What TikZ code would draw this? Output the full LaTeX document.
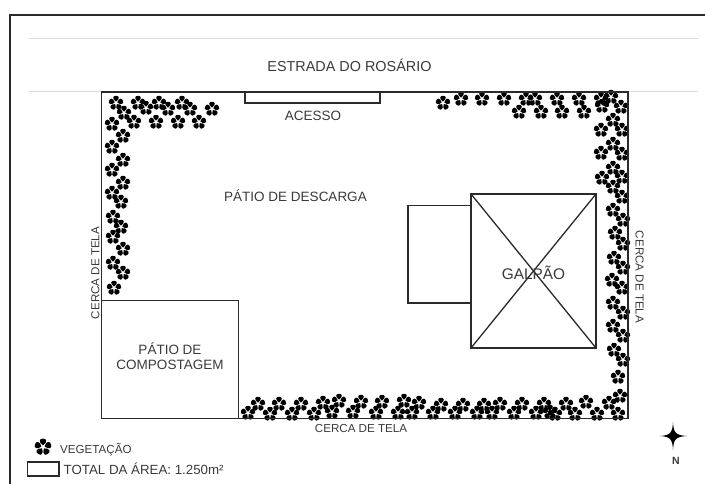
\documentclass[tikz,border=0pt]{standalone}
\usepackage{fontspec}
\setmainfont{Liberation Sans}
\definecolor{ink}{HTML}{2A2A2A}
\definecolor{txt}{HTML}{3A3A3A}
\definecolor{road}{HTML}{DCDCDC}
\tikzset{
  wall/.style={draw=ink,line width=1.8pt,line join=miter},
  thin wall/.style={draw=ink,line width=1.3pt},
  frameline/.style={draw=ink,line width=2pt},
  roadline/.style={draw=road,line width=0.8pt},
  label/.style={text=txt,font=\fontsize{13.5}{15}\selectfont,inner sep=0pt,align=center},
  road label/.style={text=txt,font=\fontsize{14.4}{16}\selectfont,inner sep=0pt},
  shed label/.style={text=txt,font=\fontsize{15.4}{17}\selectfont,inner sep=0pt},
  small label/.style={text=txt,font=\fontsize{11.6}{13}\selectfont,inner sep=0pt},
  flower/.pic={
    \foreach \a in {0,72,144,216,288}{
      \fill[black,rotate=\a] (0,-1.6) .. controls (-4.6,-4.4) and (-3.6,-8.4) .. (0,-8)
        .. controls (3.6,-8.4) and (4.6,-4.4) .. (0,-1.6) -- cycle;
    }
  }
}
\begin{document}
\begin{tikzpicture}[x=1pt,y=-1pt]
\useasboundingbox (0,0) rectangle (705,484);
% frame
\draw[frameline] (10,484) -- (10,15.5) -- (705,15.5);
% road
\draw[roadline] (29,38) -- (698,38);
\draw[roadline] (29,91.5) -- (101,91.5);
\draw[roadline] (628,91.5) -- (698,91.5);
% vegetation
\foreach \x/\y in {116/103,124/113,138/103,146/108,159/103,168/109,182/103,190/109,212/109,134/122,156/122,178/122,199/122,
 112/124,123/136,112/147,123/160,112/170,123/183,112/193,121/202,113/217,121/227,113/237,123/249,113/263,123/273,114/288,
 443/103,461/99,482/99,504/99,526/99,535/99,557/99,579/99,601/99,611/97,519/112,541/112,562/112,584/112,602/106,621/107,
 613/120,601/130,622/130,613/144,601/153,622/154,613/168,602/178,622/177,613/187,622/197,613/210,623/220,615/233,
 623/244,614/258,623/268,612/280,622/288,613/303,623/313,613/326,623/336,614/350,623/360,618/377,620/396,609/403,618/414,
 586/402,597/414,575/414,566/404,555/414,550/412,544/404,536/413,522/404,514/413,500/404,492/413,484/405,477/413,463/405,455/413,
 441/405,433/413,419/403,412/413,404/401,398/413,382/402,376/413,361/402,353/412,339/401,332/412,323/403,314/414,301/404,292/414,
 279/404,270/414,258/404,248/413}{
  \pic[scale=0.9] at (\x,\y) {flower};
}
% site
\draw[wall] (101.5,92) rectangle (628,418.5);
\draw[wall] (245,92) |- (380,103) -- (380,92);
\draw[wall] (101.5,300.5) -| (238.5,418.5);
% shed
\draw[wall] (471,194) rectangle (596,348);
\draw[wall] (471,205.5) -| (408,303) -- (471,303);
\draw[thin wall] (471,194) -- (596,348);
\draw[thin wall] (596,194) -- (471,348);
% texts
\node[road label] (road) at (349.5,65) {ESTRADA DO ROSÁRIO};
\node[label] (access) at (313,115.5) {ACESSO};
\node[label] (yard) at (295.5,196) {PÁTIO DE DESCARGA};
\node[shed label] (shed) at (533.5,272.5) {GALPÃO};
\node[label] (compost) at (170,356.5) {PÁTIO DE\\COMPOSTAGEM};
\node[small label,rotate=90] (fenceL) at (95.5,273) {CERCA DE TELA};
\node[small label,rotate=-90] (fenceR) at (639.5,277) {CERCA DE TELA};
\node[small label] (fenceB) at (361,429) {CERCA DE TELA};
% legend
\pic[scale=1.05] at (43,447) {flower};
\node[small label,anchor=west] (veg) at (60,450) {VEGETAÇÃO};
\draw[wall] (27.5,462) rectangle (59,476);
\node[label,anchor=west,font=\fontsize{13.3}{15}\selectfont] (area) at (63.5,468.5) {TOTAL DA ÁREA: 1.250m²};
% north
\fill[black] (673,422) .. controls (673.6,432) and (675,435.4) .. (687,436)
  .. controls (675,436.6) and (673.6,440) .. (673,450)
  .. controls (672.4,440) and (671,436.6) .. (660,436)
  .. controls (671,435.4) and (672.4,432) .. (673,422) -- cycle;
\node[text=txt,font=\bfseries\fontsize{10.5}{12}\selectfont,inner sep=0pt] (north) at (676,461) {N};
\end{tikzpicture}
\end{document}
